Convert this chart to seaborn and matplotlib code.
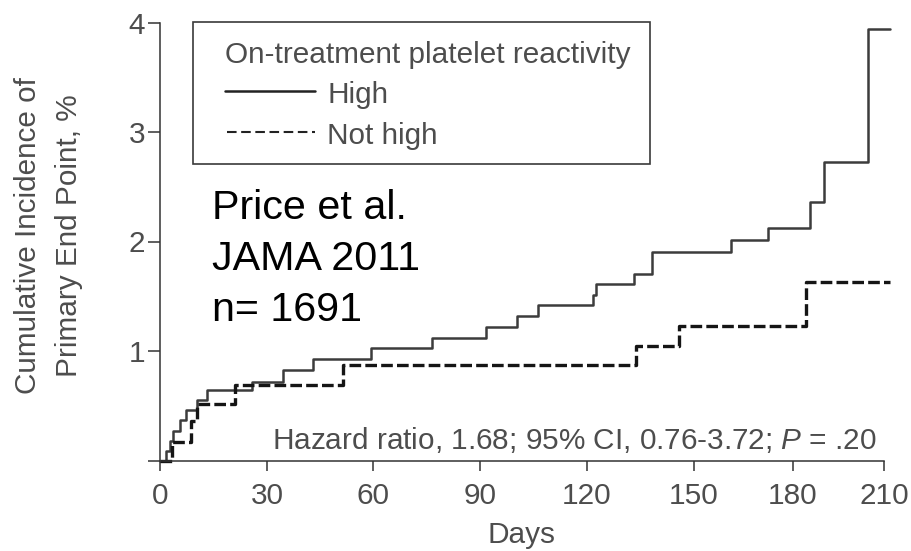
import numpy as np
import pandas as pd
import matplotlib
matplotlib.use("Agg")
import matplotlib.pyplot as plt
from matplotlib.lines import Line2D
from matplotlib.patches import Rectangle
import seaborn as sns

# Cumulative incidence of the primary end point (%), one entry per step
high_days = [0, 1.7, 2.7, 3.6, 5.6, 7.3, 10.3, 13.1, 25.7, 34.4, 43.0, 59.4,
             76.6, 91.8, 100.3, 106.4, 121.6, 122.5, 133.3, 138.3, 161.1,
             172.5, 185.6, 190.2, 204.6, 212.0]
high_pct = [0.00, 0.09, 0.18, 0.27, 0.37, 0.46, 0.55, 0.64, 0.72, 0.83, 0.93,
            1.03, 1.12, 1.22, 1.32, 1.42, 1.51, 1.61, 1.70, 1.90, 2.01, 2.12,
            2.36, 2.73, 3.94, 3.94]
not_high_days = [0, 3.4, 8.8, 10.4, 21.0, 51.4, 133.6, 145.8, 184.3, 212.0]
not_high_pct = [0.00, 0.17, 0.36, 0.52, 0.69, 0.87, 1.05, 1.23, 1.63, 1.63]

day_ticks = [0, 30, 60, 90, 120, 150, 180, 210]
pct_ticks = [0, 1, 2, 3, 4]
pct_labels = ["", "1", "2", "3", "4"]

group_labels = ["High", "Not high"]
legend_title = "On-treatment platelet reactivity"
study_lines = ["Price et al.", "JAMA 2011", "n= 1691"]
hr_text = r"Hazard ratio, 1.68; 95% CI, 0.76-3.72; $\mathit{P}$ = .20"
x_title = "Days"
y_title = "Cumulative Incidence of\nPrimary End Point, %"

# ---- style ----
sns.set_style("ticks")
plt.rcParams["font.family"] = ["Liberation Sans", "DejaVu Sans"]
plt.rcParams["mathtext.fontset"] = "custom"
plt.rcParams["mathtext.rm"] = "Liberation Sans"
plt.rcParams["mathtext.it"] = "Liberation Sans:italic"

GREY_TXT = "#4d4d4d"
AXIS_C = "#333333"
FS = 21.4      # axis / legend text size (pt)
FS_BIG = 29.7  # study annotation size (pt)

W, H = 911, 551
def fx(px):
    return px / W
def fy(py):
    return 1 - py / H

fig = plt.figure(figsize=(W / 100, H / 100), dpi=100)
ax = fig.add_axes([fx(160), fy(460.5), (884 - 160) / W, (460.5 - 22.5) / H])

# the day axis in this figure is printed with slightly uneven 30-day spacing
tick_offsets = [0, 107, 213, 320, 427, 534, 633, 724]
_d = [-30] + day_ticks + [240]
_o = [-107] + tick_offsets + [724 + 91]
def day_fwd(d):
    return np.interp(d, _d, _o)
def day_inv(o):
    return np.interp(o, _o, _d)
ax.set_xscale("function", functions=(day_fwd, day_inv))

df_high = pd.DataFrame({"Days": high_days, "Incidence": high_pct})
df_not = pd.DataFrame({"Days": not_high_days, "Incidence": not_high_pct})

sns.lineplot(data=df_high, x="Days", y="Incidence", ax=ax,
             drawstyle="steps-post", estimator=None, sort=False,
             color="#3c3c3c", linewidth=1.8, clip_on=False)
sns.lineplot(data=df_not, x="Days", y="Incidence", ax=ax,
             drawstyle="steps-post", estimator=None, sort=False,
             color="#151515", linewidth=2.4, linestyle=(0, (3.5, 1.25)),
             clip_on=False)

ax.set_xlim(0, 210)
ax.set_ylim(0, 4)
ax.set_xticks(day_ticks)
ax.set_xticklabels([str(t) for t in day_ticks])
ax.set_yticks(pct_ticks)
ax.set_yticklabels(pct_labels)
ax.minorticks_off()

sns.despine(ax=ax)
for side in ("left", "bottom"):
    ax.spines[side].set_color(AXIS_C)
    ax.spines[side].set_linewidth(1.1)
ax.tick_params(axis="y", length=8.6, width=1.1, pad=2.2, labelsize=FS,
               color=AXIS_C, labelcolor=GREY_TXT)
ax.tick_params(axis="x", length=7.2, width=1.1, pad=8, labelsize=FS,
               color=AXIS_C, labelcolor=GREY_TXT)

ax.set_xlabel(x_title, fontsize=FS, color=GREY_TXT)
ax.xaxis.set_label_coords(0.5, (460.5 - 521.0) / 438.0)
ax.set_ylabel(y_title, fontsize=FS, color=GREY_TXT, linespacing=1.58)
ax.yaxis.set_label_coords((82.7 - 160) / 724.0, (460.5 - 236) / 438.0)

# ---- legend box ----
fig.add_artist(Rectangle((fx(193), fy(164)), (650 - 193) / W, (164 - 22) / H,
                         transform=fig.transFigure, fill=False,
                         edgecolor="#3a3a3a", linewidth=1.2))
fig.text(fx(225), fy(63), legend_title, fontsize=FS, color=GREY_TXT,
         ha="left", va="baseline")
fig.add_artist(Line2D([fx(225), fx(315)], [fy(90.7)] * 2,
                      transform=fig.transFigure, color="#222222",
                      linewidth=1.8))
fig.add_artist(Line2D([fx(227), fx(315)], [fy(131.7)] * 2,
                      transform=fig.transFigure, color="#222222",
                      linewidth=1.5, linestyle=(0, (4.6, 2.2))))
fig.text(fx(327), fy(102.7), group_labels[0], fontsize=FS, color=GREY_TXT,
         ha="left", va="baseline")
fig.text(fx(327), fy(144), group_labels[1], fontsize=FS, color=GREY_TXT,
         ha="left", va="baseline")

# ---- annotations ----
for line, base in zip(study_lines, [219, 270, 321]):
    fig.text(fx(212), fy(base), line, fontsize=FS_BIG, color="black",
             ha="left", va="baseline")

fig.text(fx(272), fy(449), hr_text, fontsize=FS, color=GREY_TXT,
         ha="left", va="baseline")

fig.savefig("out.png", dpi=100)
